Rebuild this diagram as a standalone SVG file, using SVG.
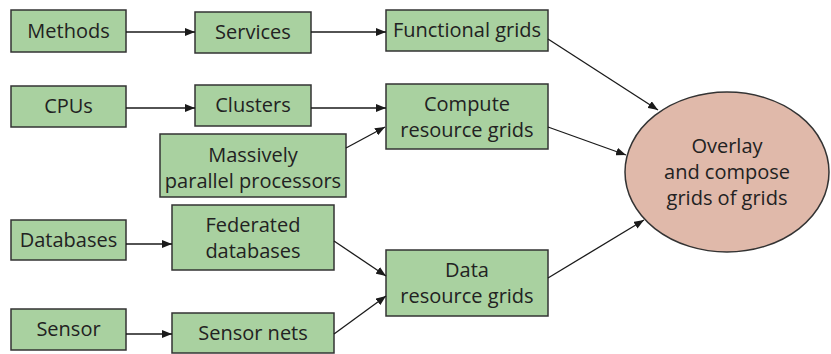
<svg xmlns="http://www.w3.org/2000/svg" width="831" height="354" viewBox="0 0 831 354">
<defs>
<marker id="ah" viewBox="0 0 10 8" refX="10" refY="4" markerWidth="10" markerHeight="8" markerUnits="userSpaceOnUse" orient="auto">
<path d="M0,0 L10,4 L0,8 Z" fill="#1a1a1a"/>
</marker>
</defs>
<style>
.box{fill:#a9d1a0;stroke:#333;stroke-width:1.5}
.ell{fill:#e0b9aa;stroke:#333;stroke-width:1.5}
text{font-family:"Open Sans","Noto Sans",sans-serif;font-size:20px;fill:#222;text-anchor:middle}
.c line{stroke:#1a1a1a;stroke-width:1.3;marker-end:url(#ah)}
</style>
<rect width="831" height="354" fill="#fff"/>
<g id="methods"><rect class="box" x="11" y="10" width="115" height="42"/><text x="68.5" y="38">Methods</text></g>
<g id="services"><rect class="box" x="195" y="12" width="116" height="41"/><text x="253" y="39">Services</text></g>
<g id="functional"><rect class="box" x="386" y="10" width="162" height="41"/><text x="467" y="37">Functional grids</text></g>
<g id="cpus"><rect class="box" x="11" y="86" width="115" height="41"/><text x="68.5" y="113">CPUs</text></g>
<g id="clusters"><rect class="box" x="195" y="85" width="116" height="41"/><text x="253" y="112">Clusters</text></g>
<g id="compute"><rect class="box" x="386" y="84" width="162" height="65"/><text x="467" y="111">Compute</text><text x="467" y="137">resource grids</text></g>
<g id="massively"><rect class="box" x="160" y="134" width="186" height="63"/><text x="253" y="162">Massively</text><text x="253" y="188">parallel processors</text></g>
<g id="databases"><rect class="box" x="11" y="220" width="115" height="40"/><text x="68.5" y="247">Databases</text></g>
<g id="federated"><rect class="box" x="172" y="205" width="162" height="65"/><text x="253" y="232">Federated</text><text x="253" y="258">databases</text></g>
<g id="data"><rect class="box" x="386" y="250" width="162" height="66"/><text x="467" y="277">Data</text><text x="467" y="303">resource grids</text></g>
<g id="sensor"><rect class="box" x="11" y="309" width="115" height="41"/><text x="68.5" y="336">Sensor</text></g>
<g id="sensornets"><rect class="box" x="172" y="313" width="162" height="40"/><text x="253" y="340">Sensor nets</text></g>
<g id="overlay"><ellipse class="ell" cx="727" cy="172" rx="102" ry="80"/><text x="727" y="153">Overlay</text><text x="727" y="179">and compose</text><text x="727" y="205">grids of grids</text></g>
<g id="connectors" class="c">
<line x1="126" y1="32" x2="195" y2="32"/>
<line x1="311" y1="32" x2="386" y2="32"/>
<line x1="126" y1="108" x2="195" y2="108"/>
<line x1="311" y1="108" x2="386" y2="108"/>
<line x1="346" y1="148" x2="385" y2="127"/>
<line x1="126" y1="244" x2="172" y2="244"/>
<line x1="126" y1="334" x2="172" y2="334"/>
<line x1="334" y1="241" x2="386" y2="276"/>
<line x1="334" y1="334" x2="386" y2="296"/>
<line x1="548" y1="39" x2="658" y2="110"/>
<line x1="548" y1="127" x2="626" y2="155"/>
<line x1="548" y1="278" x2="644" y2="220"/>
</g>
</svg>
